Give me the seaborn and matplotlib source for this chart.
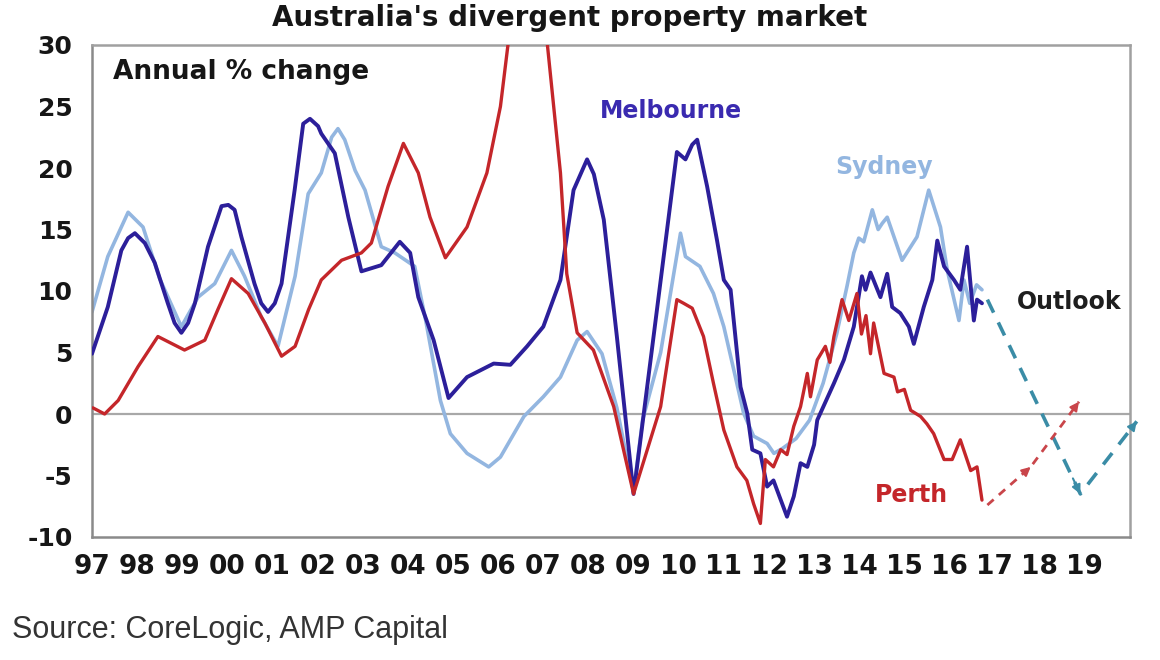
import matplotlib
matplotlib.use("Agg")
import matplotlib.pyplot as plt
import seaborn as sns
import pandas as pd

# values (year as decimal, annual % change)
melb_years = [1997.0, 1997.35, 1997.65, 1997.8, 1997.95, 1998.17, 1998.39, 1998.68, 1998.83, 1998.98,
              1999.13, 1999.28, 1999.57, 1999.87, 2000.02, 2000.16, 2000.31, 2000.6, 2000.75, 2000.9,
              2001.05, 2001.2, 2001.49, 2001.68, 2001.83, 2002.01, 2002.08, 2002.38, 2002.68, 2002.97,
              2003.41, 2003.82, 2004.05, 2004.23, 2004.57, 2004.9, 2005.31, 2005.9, 2006.27, 2006.64,
              2007.0, 2007.38, 2007.67, 2007.97, 2008.12, 2008.34, 2008.63, 2009.0, 2009.45, 2009.96,
              2010.15, 2010.3, 2010.41, 2010.63, 2010.85, 2011.0, 2011.15, 2011.37, 2011.52, 2011.63,
              2011.81, 2011.96, 2012.1, 2012.4, 2012.55, 2012.7, 2012.85, 2013.0, 2013.07, 2013.44,
              2013.66, 2013.88, 2014.06, 2014.14, 2014.25, 2014.47, 2014.62, 2014.73, 2014.91, 2015.1,
              2015.21, 2015.43, 2015.62, 2015.73, 2015.88, 2016.1, 2016.24, 2016.39, 2016.54, 2016.61,
              2016.72]
melb_vals = [4.9, 8.7, 13.3, 14.3, 14.7, 13.9, 12.3, 9.0, 7.4, 6.6,
             7.4, 9.0, 13.6, 16.9, 17.0, 16.6, 14.4, 10.6, 9.0, 8.3,
             9.0, 10.6, 18.2, 23.6, 24.0, 23.4, 22.8, 21.2, 16.0, 11.6,
             12.1, 14.0, 13.1, 9.5, 6.0, 1.3, 3.0, 4.1, 4.0, 5.5,
             7.1, 10.9, 18.2, 20.7, 19.5, 15.8, 6.3, -6.5, 6.5, 21.3,
             20.7, 21.9, 22.3, 18.5, 14.1, 10.9, 10.1, 2.2, 0.05, -2.9,
             -3.2, -5.9, -5.4, -8.35, -6.7, -4.0, -4.3, -2.5, -0.5, 2.5,
             4.4, 7.1, 11.2, 10.1, 11.5, 9.5, 11.4, 8.7, 8.2, 7.1,
             5.7, 8.7, 10.9, 14.1, 12.0, 10.9, 10.1, 13.6, 7.6, 9.3,
             9.0]

syd_years = [1997.0, 1997.35, 1997.8, 1998.13, 1998.5, 1998.98, 1999.35, 1999.72, 2000.09, 2000.38,
             2000.75, 2001.12, 2001.5, 2001.79, 2002.08, 2002.31, 2002.45, 2002.6, 2002.83, 2003.05,
             2003.41, 2003.71, 2004.15, 2004.4, 2004.72, 2004.94, 2005.31, 2005.79, 2006.05, 2006.57,
             2007.0, 2007.38, 2007.75, 2007.97, 2008.3, 2008.63, 2009.0, 2009.2, 2009.6, 2010.04,
             2010.15, 2010.47, 2010.77, 2011.0, 2011.22, 2011.44, 2011.66, 2011.96, 2012.11, 2012.3,
             2012.6, 2012.9, 2013.2, 2013.5, 2013.73, 2013.88, 2013.99, 2014.1, 2014.29, 2014.42,
             2014.51, 2014.62, 2014.95, 2015.28, 2015.54, 2015.8, 2015.95, 2016.21, 2016.32, 2016.45,
             2016.6, 2016.72]
syd_vals = [8.3, 12.8, 16.4, 15.2, 11.0, 7.1, 9.5, 10.6, 13.3, 11.2,
            7.9, 5.5, 11.2, 17.9, 19.6, 22.5, 23.2, 22.3, 19.8, 18.2,
            13.6, 13.1, 12.0, 7.5, 1.1, -1.6, -3.2, -4.3, -3.5, -0.2,
            1.4, 3.0, 6.0, 6.7, 4.9, 0.5, -6.3, -0.5, 5.0, 14.7,
            12.8, 12.0, 9.8, 7.1, 3.6, 0.05, -1.8, -2.4, -3.2, -2.8,
            -2.0, -0.5, 2.5, 6.5, 10.4, 13.1, 14.3, 14.0, 16.6, 15.0,
            15.5, 16.0, 12.5, 14.4, 18.2, 15.2, 11.7, 7.6, 10.9, 9.0,
            10.5, 10.1]

perth_years = [1997.02, 1997.28, 1997.58, 1998.02, 1998.46, 1999.05, 1999.5, 1999.79, 2000.09, 2000.46,
               2000.83, 2001.2, 2001.5, 2001.8, 2002.08, 2002.53, 2002.97, 2003.19, 2003.56, 2003.9,
               2004.23, 2004.49, 2004.83, 2005.31, 2005.75, 2006.05, 2006.23, 2006.5, 2006.75, 2007.0,
               2007.08, 2007.38, 2007.52, 2007.75, 2008.11, 2008.56, 2009.0, 2009.6, 2009.96, 2010.11,
               2010.3, 2010.55, 2010.77, 2011.0, 2011.29, 2011.51, 2011.66, 2011.81, 2011.92, 2012.1,
               2012.26, 2012.4, 2012.55, 2012.7, 2012.85, 2012.92, 2013.07, 2013.25, 2013.35, 2013.44,
               2013.62, 2013.77, 2013.95, 2014.05, 2014.15, 2014.25, 2014.32, 2014.55, 2014.77, 2014.85,
               2015.0, 2015.14, 2015.36, 2015.5, 2015.65, 2015.88, 2016.06, 2016.24, 2016.47, 2016.61,
               2016.72]
perth_vals = [0.5, 0.0, 1.1, 3.85, 6.3, 5.2, 6.0, 8.5, 11.0, 9.8,
              7.4, 4.7, 5.5, 8.5, 10.9, 12.5, 13.1, 13.9, 18.5, 22.0,
              19.6, 16.0, 12.7, 15.2, 19.6, 25.0, 30.4, 38.0, 40.0, 36.0,
              30.4, 19.6, 11.4, 6.6, 5.2, 0.6, -6.5, 0.6, 9.3, 9.0,
              8.6, 6.3, 2.5, -1.3, -4.3, -5.4, -7.3, -8.9, -3.7, -4.3,
              -2.9, -3.3, -1.0, 0.6, 3.3, 1.4, 4.4, 5.5, 4.2, 6.3,
              9.3, 7.6, 9.8, 6.5, 8.0, 4.9, 7.4, 3.3, 3.0, 1.8,
              2.0, 0.3, -0.2, -0.8, -1.6, -3.7, -3.7, -2.1, -4.6, -4.3,
              -7.0]

# outlook paths
outlook_syd_years = [2016.84, 2018.9, 2020.15]
outlook_syd_vals = [9.3, -6.5, -0.6]
outlook_perth_years = [2016.84, 2017.8, 2018.87]
outlook_perth_vals = [-7.4, -4.3, 1.0]

tick_years = list(range(1997, 2021))
tick_labels = ["97", "98", "99", "00", "01", "02", "03", "04", "05", "06", "07", "08",
               "09", "10", "11", "12", "13", "14", "15", "16", "17", "18", "19", ""]

c_melb = "#2c1f9a"
c_syd = "#93b6e0"
c_perth = "#c4262a"
c_teal = "#3a8ca6"
c_red_out = "#c9454a"

sns.set_style("white")
plt.rcParams["font.family"] = ["DejaVu Sans"]
plt.rcParams["axes.unicode_minus"] = False

fig = plt.figure(figsize=(11.6, 6.6), dpi=100)
ax = fig.add_axes([92 / 1160, 123 / 660, 1038 / 1160, 492 / 660])

ax.axhline(0, color="#a8a8a8", lw=1.6, zorder=1)

syd = pd.DataFrame({"year": syd_years, "val": syd_vals})
melb = pd.DataFrame({"year": melb_years, "val": melb_vals})
perth = pd.DataFrame({"year": perth_years, "val": perth_vals})

sns.lineplot(data=syd, x="year", y="val", ax=ax, color=c_syd, lw=2.6, sort=False, estimator=None, zorder=2)
sns.lineplot(data=melb, x="year", y="val", ax=ax, color=c_melb, lw=2.8, sort=False, estimator=None, zorder=3)
sns.lineplot(data=perth, x="year", y="val", ax=ax, color=c_perth, lw=2.4, sort=False, estimator=None, zorder=4)

sns.lineplot(x=outlook_syd_years, y=outlook_syd_vals, ax=ax, color=c_teal, lw=2.6,
             linestyle=(0, (4, 3)), sort=False, estimator=None, zorder=3)
sns.lineplot(x=outlook_perth_years, y=outlook_perth_vals, ax=ax, color=c_red_out, lw=2.0,
             linestyle=(0, (3, 2.5)), sort=False, estimator=None, zorder=3)
for lines in ax.get_lines()[-2:]:
    lines.set_clip_on(False)


def add_heads(xs, ys, color):
    for i in range(1, len(xs)):
        x0, y0, x1, y1 = xs[i - 1], ys[i - 1], xs[i], ys[i]
        start = (x1 - 0.08 * (x1 - x0), y1 - 0.08 * (y1 - y0))
        ax.annotate("", xy=(x1, y1), xytext=start, annotation_clip=False,
                    arrowprops=dict(arrowstyle="-|>", color=color, lw=1.5,
                                    mutation_scale=13, shrinkA=0, shrinkB=0))


add_heads(outlook_syd_years, outlook_syd_vals, c_teal)
add_heads(outlook_perth_years, outlook_perth_vals, c_red_out)

ax.set_xlim(1997, 2020)
ax.set_ylim(-10, 30)
ax.set_xticks(tick_years)
ax.set_xticklabels(tick_labels)
ax.set_yticks(range(-10, 31, 5))
ax.set_xlabel("")
ax.set_ylabel("")

for s in ax.spines.values():
    s.set_visible(True)
    s.set_color("#a0a0a0")
    s.set_linewidth(1.8)
ax.spines["left"].set_color("#8a8a8a")
ax.spines["bottom"].set_color("#8a8a8a")

ax.tick_params(axis="x", direction="out", length=7, width=1.6, color="#8a8a8a",
               labelsize=19, pad=5, labelcolor="#161616")
ax.tick_params(axis="y", direction="out", length=7, width=1.6, color="#8a8a8a",
               labelsize=18, pad=7, labelcolor="#161616")
for lab in ax.get_xticklabels() + ax.get_yticklabels():
    lab.set_fontweight("bold")

ax.text(1997.47, 27.8, "Annual % change", fontsize=19, fontweight="bold", color="#161616",
        ha="left", va="center")
ax.text(2009.82, 24.6, "Melbourne", fontsize=17, fontweight="bold", color="#3a2ab0",
        ha="center", va="center")
ax.text(2014.54, 20.1, "Sydney", fontsize=17, fontweight="bold", color=c_syd,
        ha="center", va="center")
ax.text(2018.66, 9.1, "Outlook", fontsize=17, fontweight="bold", color="#1e1e1e",
        ha="center", va="center")
ax.text(2015.16, -6.6, "Perth", fontsize=17, fontweight="bold", color=c_perth,
        ha="center", va="center")

fig.text(570 / 1160, 1 - 18 / 660, "Australia's divergent property market", fontsize=20,
         fontweight="bold", color="#161616", ha="center", va="center")
fig.text(12 / 1160, 1 - 630 / 660, "Source: CoreLogic, AMP Capital", fontsize=22,
         family=["Liberation Sans", "DejaVu Sans"], color="#333333", ha="left", va="center")

fig.savefig("out.png", dpi=100)
